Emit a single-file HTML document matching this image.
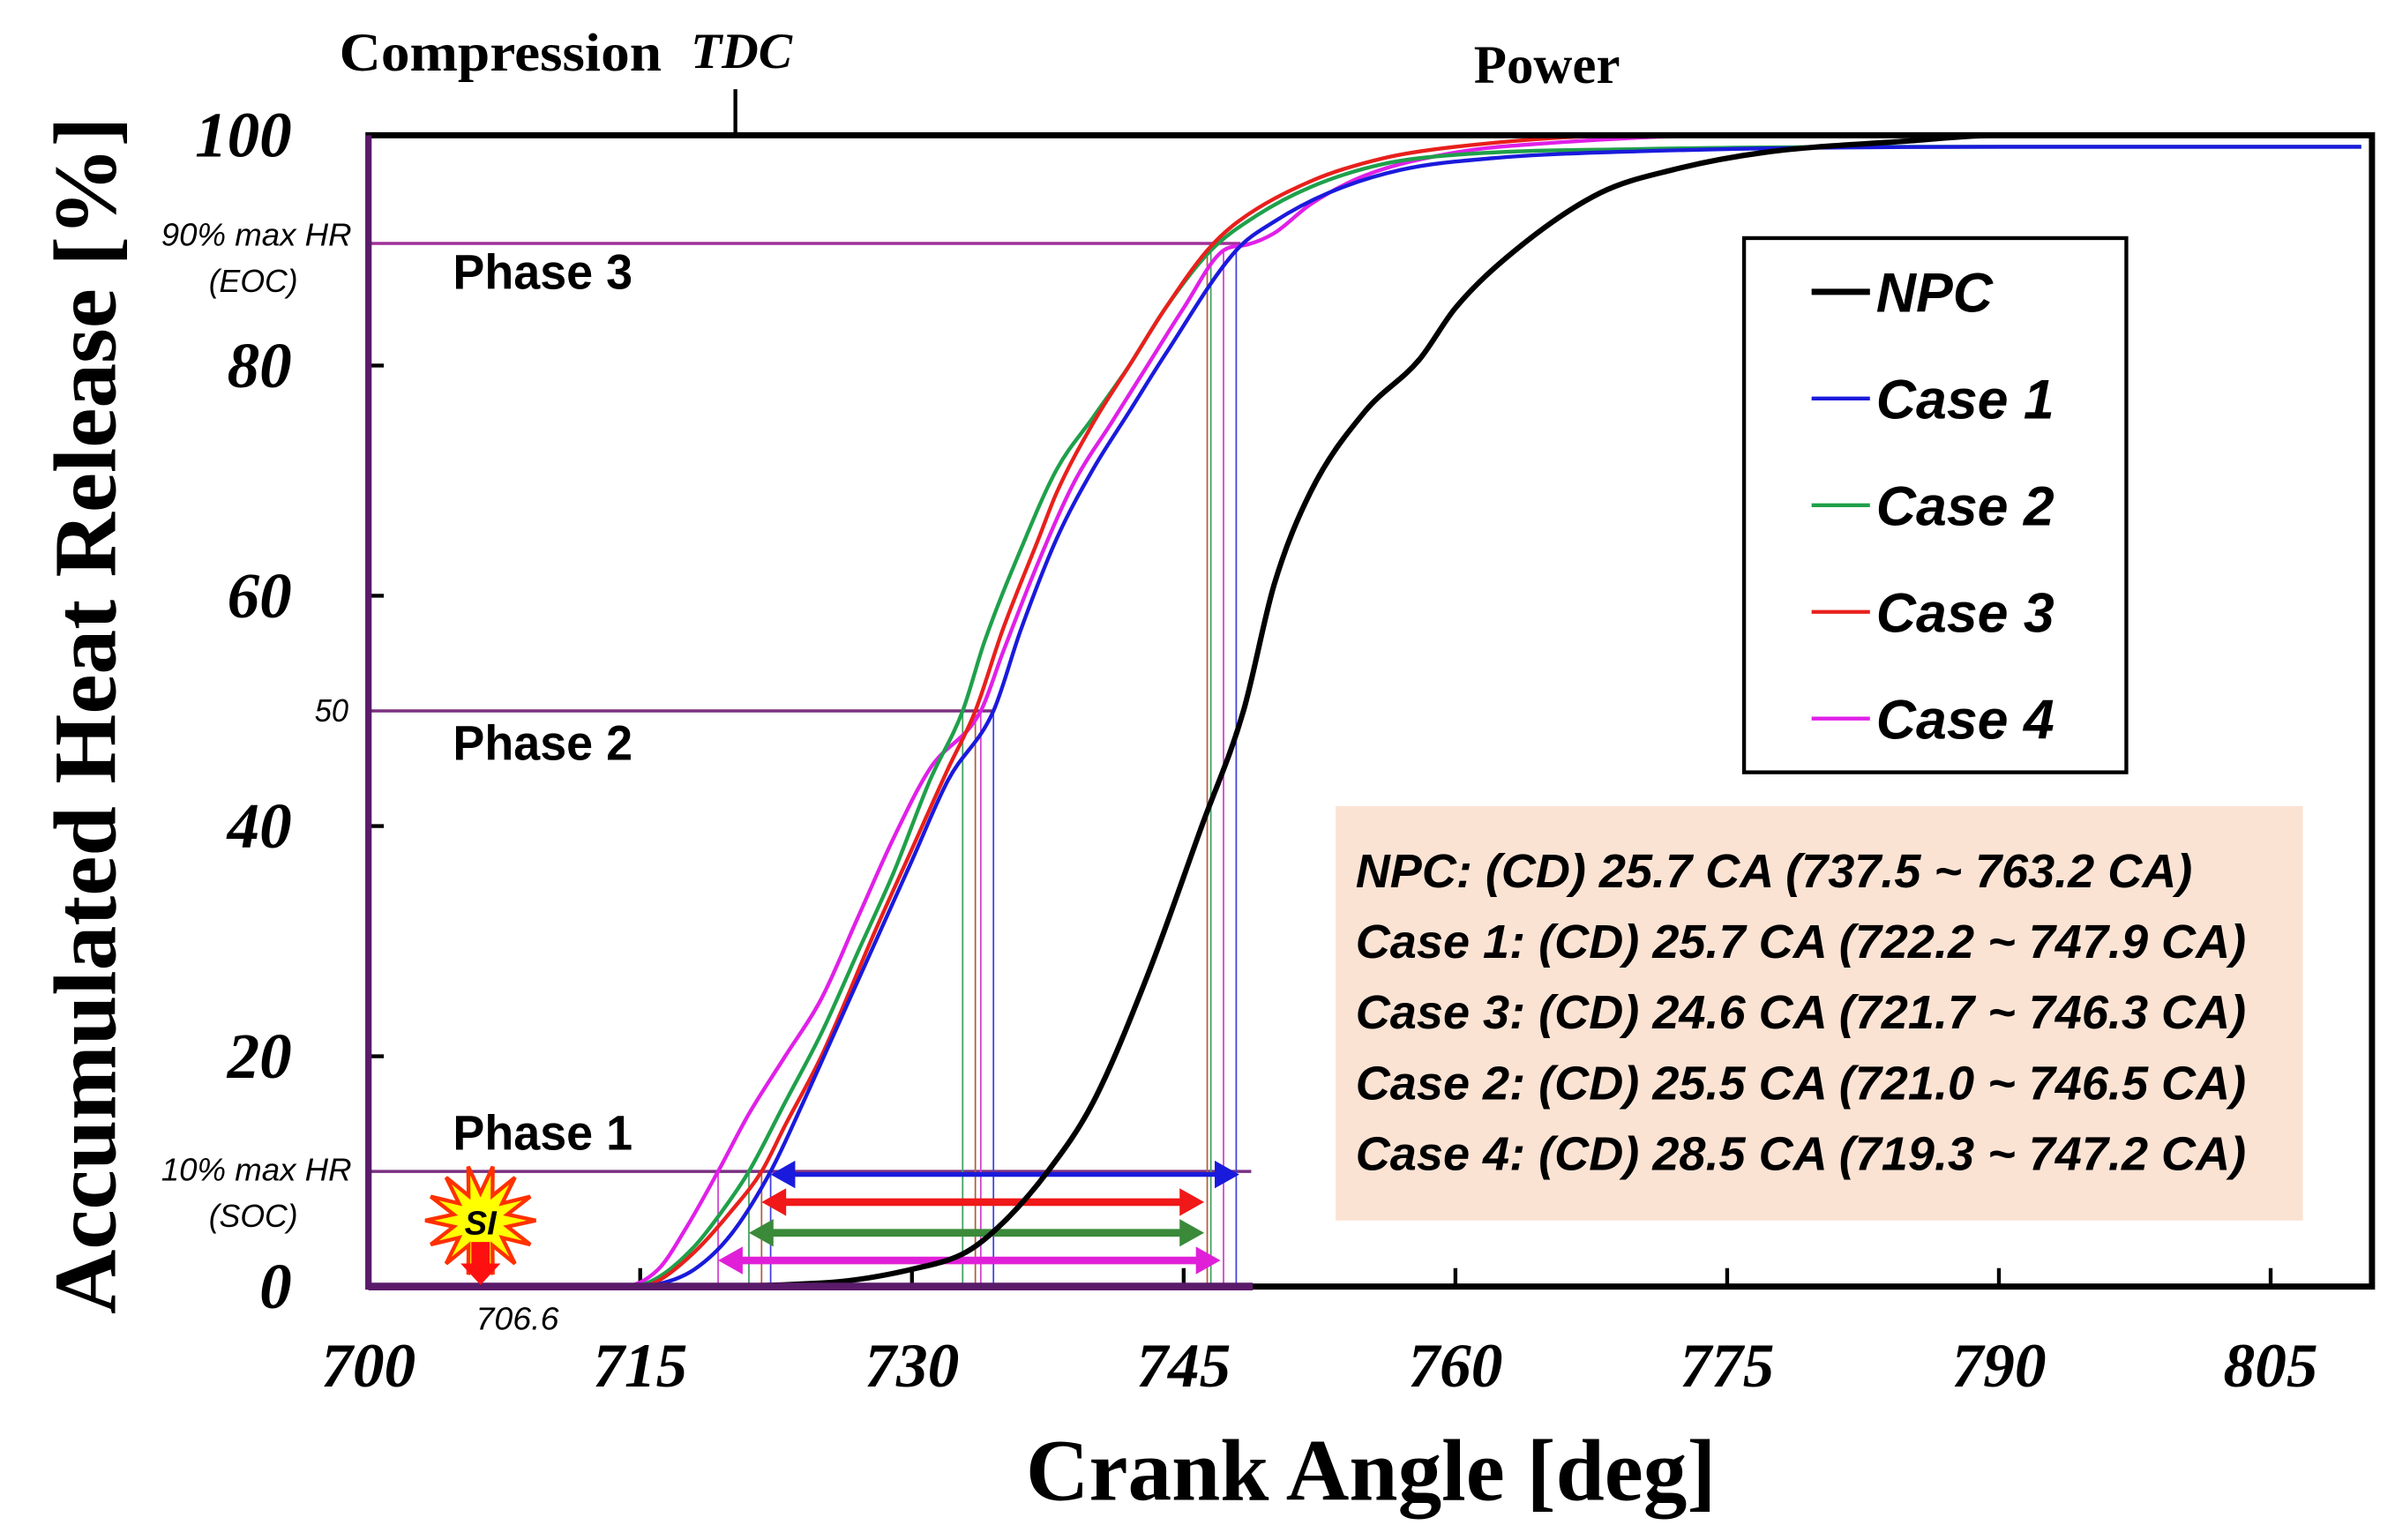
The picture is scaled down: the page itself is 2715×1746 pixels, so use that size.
<!DOCTYPE html>
<html><head><meta charset="utf-8"><style>
html,body{margin:0;padding:0;background:#fff;}
svg{display:block;}
</style></head><body>
<svg id="chart" width="2715" height="1746" viewBox="0 0 1560 1003" xmlns="http://www.w3.org/2000/svg">
<rect x="0" y="0" width="1560" height="1003" fill="#fff"/>
<g id="plot"></g>
</svg>
<script>
const xTicks=[700,715,730,745,760,775,790,805];
const yTicks=[0,20,40,60,80,100];
const npcX=[700,715,725,730,733,735,737.5,740,743,746,748.3,750,752,755,758,760,763.3,768,772,777,785,790,810];
const npcY=[0,0,0.3,1.5,3,5.5,10,16,27,40,50,61,69,76,80.5,85,90,95,97,98.5,99.5,100,100];
const c1X=[700,715,716,718,720,722.2,724,726,728,730,732,734.5,736,738,740,742,744,747.9,750,753,757,762,770,790,810];
const c1Y=[0,0,0.2,1.5,4.5,10,16,23,30,37,44,50,57,65,71,76,81,90,92.5,95,97,98,98.6,99,99];
const c2X=[700,714.5,716,718,719.5,721,723,725,727,729,731,732.8,734,736,738,740,742,744,746.5,749,752,756,760,770,790,810];
const c2Y=[0,0,0.8,3.5,6.5,10,16,22,29,36,44,50,56,64,71,75.5,80,85,90,93,95.5,97.5,98.3,98.8,99,99];
const c3X=[700,715,716,718,720,721.7,723,725,728,730,732,733.5,735,737,738,740,742,744,746.3,748,752,756,760,770,810];
const c3Y=[0,0,0.5,3,6.5,10,14,20,31,38,45,50,57,65,69,75,80,85,90,92.5,96,98,99,100,100];
const c4X=[700,714,716,717.5,719.3,721,723,725,727,729,731,733.8,735,737,739,741,743,745,747.2,748.5,750,752,755,760,765,775,810];
const c4Y=[0,0,1.5,5,10,15,20,25,32,39,45,50,55,63,70,75,80,85,90,90.5,91.5,94,96.5,98.5,99.3,100,100];
const seriesNames=["NPC","Case 1","Case 2","Case 3","Case 4"];
const seriesColors=["#000","#1a1adc","#1fa04a","#e8201c","#e020e8"];
const socVals=[737.5,722.2,721.0,721.7,719.3];
const eocVals=[763.2,747.9,746.5,746.3,747.2];
const midVals=[748.3,734.5,732.8,733.5,733.8];
const infoLines=["NPC: (CD) 25.7 CA (737.5 ~ 763.2 CA)","Case 1: (CD) 25.7 CA (722.2 ~ 747.9 CA)","Case 3: (CD) 24.6 CA (721.7 ~ 746.3 CA)","Case 2: (CD) 25.5 CA (721.0 ~ 746.5 CA)","Case 4: (CD) 28.5 CA (719.3 ~ 747.2 CA)"];

const X0=240,Y0=838,PX=11.8,PY=7.5;
const sx=v=>X0+(v-700)*PX;
const sy=v=>Y0-v*PY;
const g=document.getElementById('plot');
const NS="http://www.w3.org/2000/svg";
function el(tag,attrs,txt){const e=document.createElementNS(NS,tag);for(const k in attrs)e.setAttribute(k,attrs[k]);if(txt!==undefined)e.textContent=txt;g.appendChild(e);return e;}
function pathFrom(xs,ys){
  const n=xs.length,px=xs.map(sx),py=ys.map(sy);
  const d=[],m=new Array(n);
  for(let i=0;i<n-1;i++)d.push((py[i+1]-py[i])/(px[i+1]-px[i]));
  m[0]=d[0];m[n-1]=d[n-2];
  for(let i=1;i<n-1;i++){m[i]=(d[i-1]*d[i]<=0)?0:(d[i-1]+d[i])/2;}
  for(let i=0;i<n-1;i++){
    if(d[i]===0){m[i]=0;m[i+1]=0;continue;}
    const a=m[i]/d[i],b=m[i+1]/d[i],s=a*a+b*b;
    if(s>9){const t=3/Math.sqrt(s);m[i]=t*a*d[i];m[i+1]=t*b*d[i];}
  }
  let p="M"+px[0]+","+py[0];
  for(let i=0;i<n-1;i++){
    const h=(px[i+1]-px[i])/3;
    p+=` C${px[i]+h},${py[i]+m[i]*h} ${px[i+1]-h},${py[i+1]-m[i+1]*h} ${px[i+1]},${py[i+1]}`;
  }
  return p;
}
const serif='"Liberation Serif", serif', sans='"Liberation Sans", sans-serif';

let e;
e=el('line',{x1:240,y1:sy(90.6),x2:808,y2:sy(90.6),stroke:'#a0309a','stroke-width':2});

e=el('line',{x1:240,y1:sy(50),x2:646,y2:sy(50),stroke:'#7a3080','stroke-width':2});

e=el('line',{x1:240,y1:sy(10),x2:815,y2:sy(10),stroke:'#7a3080','stroke-width':2});


const vcol=["#000","#4040e0","#40a060","#b06040","#d040d0"];
for(let i=1;i<5;i++){
  e=el('line',{x1:sx(socVals[i]),y1:Y0,x2:sx(socVals[i]),y2:sy(10),stroke:vcol[i],'stroke-width':1});
  
  e=el('line',{x1:sx(midVals[i]),y1:Y0,x2:sx(midVals[i]),y2:sy(50),stroke:vcol[i],'stroke-width':1});
  
  e=el('line',{x1:sx(eocVals[i]),y1:Y0,x2:sx(eocVals[i]),y2:sy(90),stroke:vcol[i],'stroke-width':1});
  
}

xTicks.forEach(t=>{
  e=el('line',{x1:sx(t),y1:Y0,x2:sx(t),y2:Y0-12,stroke:'#000','stroke-width':2.5});
  
  e=el('text',{x:sx(t),y:903,'font-family':serif,'font-size':41,'font-weight':'bold','font-style':'italic','text-anchor':'middle'},String(t));
  
});
yTicks.forEach(t=>{
  e=el('line',{x1:X0,y1:sy(t),x2:X0+10,y2:sy(t),stroke:'#000','stroke-width':2.5});
  
  e=el('text',{x:190,y:sy(t)+14,'font-family':serif,'font-size':42,'font-weight':'bold','font-style':'italic','text-anchor':'end'},String(t));
  
});

function arrow(x1,x2,y,c,w,name){
  e=el('line',{x1:x1+14,y1:y,x2:x2-14,y2:y,stroke:c,'stroke-width':w});
  
  e=el('polygon',{points:`${x1},${y} ${x1+16},${y-9} ${x1+16},${y+9}`,fill:c});
  
  e=el('polygon',{points:`${x2},${y} ${x2-16},${y-9} ${x2-16},${y+9}`,fill:c});
  
}
arrow(sx(socVals[1]),sx(eocVals[1])+2,765,'#1a1adc',3,'case1-duration-arrow');
arrow(sx(socVals[3]),sx(eocVals[3])-2,783,'#f01818',5,'case3-duration-arrow');
arrow(sx(socVals[2]),sx(eocVals[3])-2,803,'#3a8a3a',5,'case2-duration-arrow');
arrow(sx(socVals[4]),sx(eocVals[4])-2,821,'#e020d8',5,'case4-duration-arrow');

const allX=[npcX,c1X,c2X,c3X,c4X],allY=[npcY,c1Y,c2Y,c3Y,c4Y];
[4,2,3,1,0].forEach(i=>{
  e=el('path',{d:pathFrom(allX[i],allY[i]),fill:'none',stroke:seriesColors[i],'stroke-width':i===0?3.5:2.5});
  
  
});

e=el('rect',{x:240,y:88,width:1305,height:750,fill:'none',stroke:'#000','stroke-width':4});

e=el('line',{x1:240,y1:88,x2:240,y2:840,stroke:'#5a1a6a','stroke-width':4});

e=el('line',{x1:240,y1:838,x2:816,y2:838,stroke:'#5a1a6a','stroke-width':5});


e=el('rect',{x:1136,y:155,width:249,height:348,fill:'#fff',stroke:'#000','stroke-width':2.5});

seriesNames.forEach((n,i)=>{
  const y=190+i*69.5;
  e=el('line',{x1:1180,y1:y,x2:1218,y2:y,stroke:seriesColors[i],'stroke-width':i===0?4:2.5});
  
  e=el('text',{x:1222,y:y+13,'font-family':sans,'font-size':36,'font-weight':'bold','font-style':'italic'},n);
  
});

e=el('rect',{x:870,y:525,width:630,height:270,fill:'#fbe3d4'});

infoLines.forEach((t,i)=>{
  e=el('text',{x:883,y:578+i*46,'font-family':sans,'font-size':31,'font-style':'italic','font-weight':'bold',textLength:i===0?545:580,lengthAdjust:'spacingAndGlyphs'},t);
  
});

[["Phase 3",188],["Phase 2",495],["Phase 1",749]].forEach(([t,y])=>{
  e=el('text',{x:295,y:y,'font-family':sans,'font-size':32,'font-weight':'bold',textLength:117,lengthAdjust:'spacingAndGlyphs'},t);
  
});
[["90% max HR",105,160,124],["(EOC)",136,190,58],["50",205,470,22],["10% max HR",105,769,124],["(SOC)",136,799,58],["706.6",310,866,54]].forEach(([t,x,y,w])=>{
  e=el('text',{x:x,y:y,'font-family':sans,'font-size':21,'font-style':'italic',textLength:w,lengthAdjust:'spacingAndGlyphs'},t);
  
});

e=el('text',{x:221,y:46,'font-family':serif,'font-size':35,'font-weight':'bold',textLength:210,lengthAdjust:'spacingAndGlyphs'},'Compression');

e=el('text',{x:450,y:44,'font-family':serif,'font-size':33,'font-weight':'bold','font-style':'italic'},'TDC');

e=el('line',{x1:479,y1:58,x2:479,y2:88,stroke:'#000','stroke-width':2.5});

e=el('text',{x:960,y:54,'font-family':serif,'font-size':35,'font-weight':'bold'},'Power');


e=el('text',{x:893,y:977,'font-family':serif,'font-size':57,'font-weight':'bold','text-anchor':'middle'},'Crank Angle [deg]');

e=el('text',{x:0,y:0,'font-family':serif,'font-size':58,'font-weight':'bold','text-anchor':'middle',transform:'translate(75,466) rotate(-90)',textLength:780,lengthAdjust:'spacingAndGlyphs'},'Accumulated Heat Release [%]');


let pts=[];const cx=313,cy=795;
for(let i=0;i<28;i++){const a=i*Math.PI/14;const r=i%2?18:36;pts.push((cx+r*Math.cos(a)).toFixed(1)+','+(cy+r*Math.sin(a)).toFixed(1));}
e=el('polygon',{points:pts.join(' '),fill:'#ffff00',stroke:'#ff3000','stroke-width':2.5});

e=el('polygon',{points:`${cx-6},${cy+14} ${cx+6},${cy+14} ${cx+6},${cy+28} ${cx+13},${cy+28} ${cx},${cy+42} ${cx-13},${cy+28} ${cx-6},${cy+28}`,fill:'#ff1010'});

e=el('text',{x:cx,y:cy+9,'font-family':sans,'font-size':22,'font-weight':'bold','font-style':'italic','text-anchor':'middle'},'SI');

</script>
</body></html>
